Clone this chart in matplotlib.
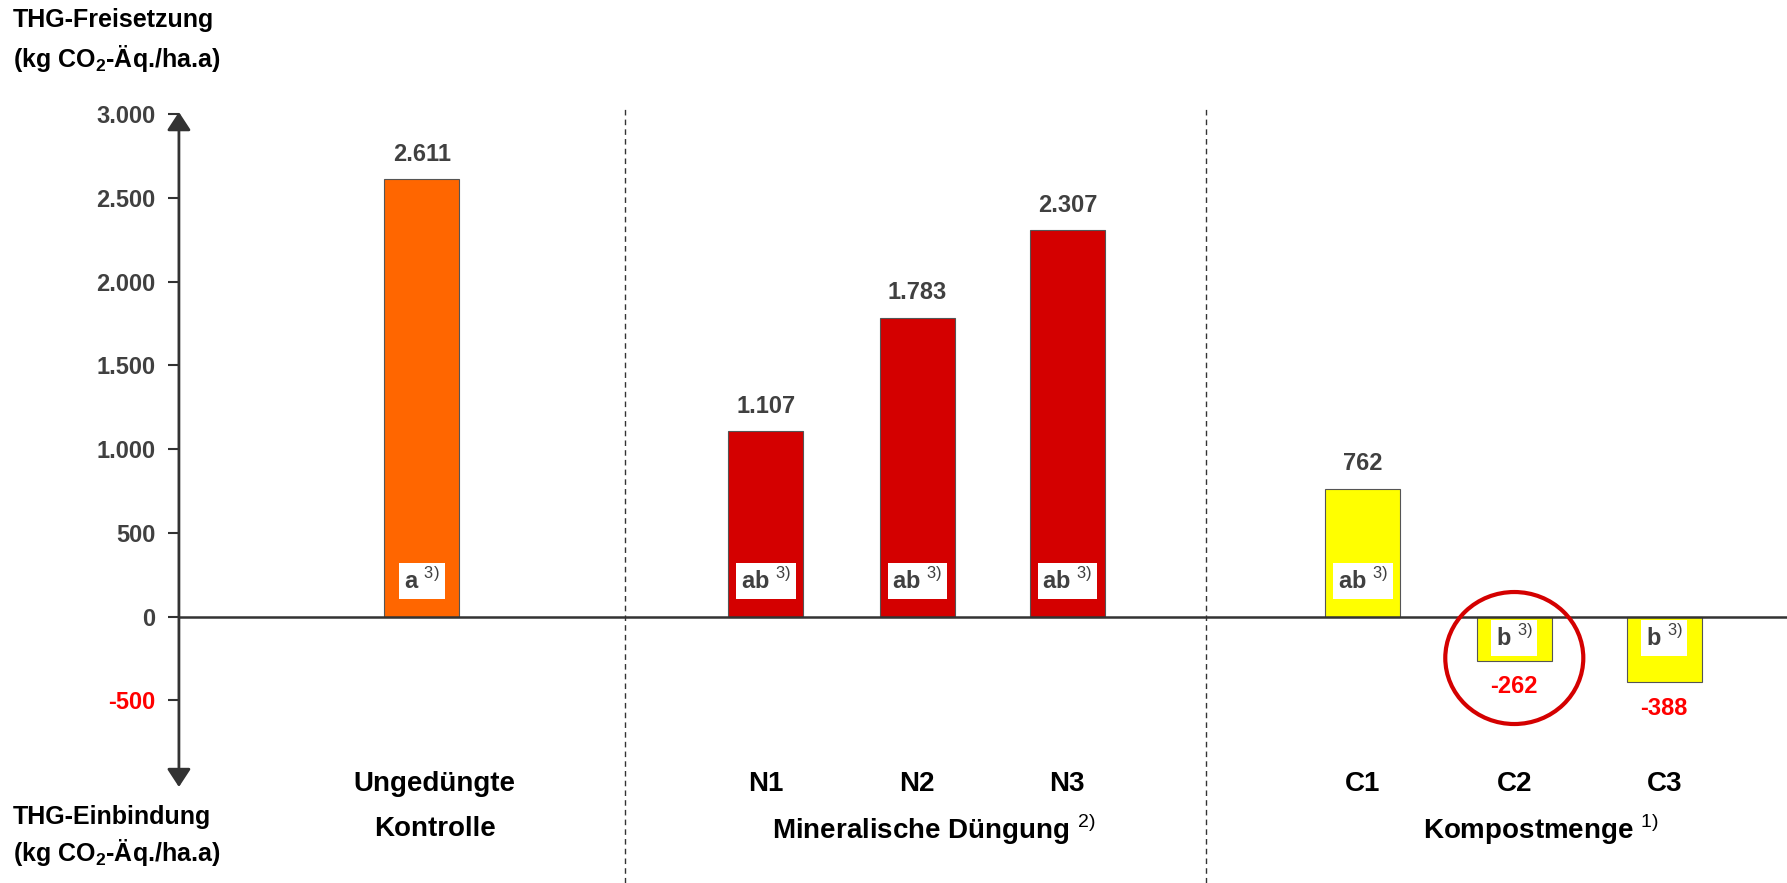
"""
THG-Bilanz: Ungedüngte Kontrolle, mineralische Düngung und Kompostmenge
"""

import matplotlib.pyplot as plt
from matplotlib.patches import Ellipse
from matplotlib.ticker import FuncFormatter, FixedLocator

plt.rcParams['font.family'] = ['Liberation Sans', 'DejaVu Sans']
plt.rcParams['mathtext.fontset'] = 'custom'
plt.rcParams['mathtext.rm'] = 'Liberation Sans'
plt.rcParams['mathtext.bf'] = 'Liberation Sans:bold'
plt.rcParams['axes.unicode_minus'] = False

# data
categories = ['Ungedüngte\nKontrolle', 'N1', 'N2', 'N3', 'C1', 'C2', 'C3']
values = [2611, 1107, 1783, 2307, 762, -262, -388]
letters = ['a', 'ab', 'ab', 'ab', 'ab', 'b', 'b']
bar_colors = ['#FF6600', '#D40000', '#D40000', '#D40000',
              '#FFFF00', '#FFFF00', '#FFFF00']
group_labels = ['Mineralische Düngung $^{2)}$', 'Kompostmenge $^{1)}$']
group_center = [2, 5]          # index of the bar under which the group label sits
y_ticks = [-500, 0, 500, 1000, 1500, 2000, 2500, 3000]
highlight = 5                  # C2 is circled

# layout
x_pos = [0, 2.27, 3.27, 4.26, 6.21, 7.21, 8.2]
label_dx = [0.085, 0, 0, 0, 0, 0, 0]
group_dx = [0.108, 0.178]
separators = [1.337, 5.175]
AXIS_X = -1.604
BAR_W = 0.495
DARK = '#333333'
TEXT = '#404040'


def de_fmt(v, _=None):
    return f"{int(v):,}".replace(',', '.')


fig = plt.figure(figsize=(17.87, 8.83), dpi=100)
ax = fig.add_axes([0, 0, 1, 1])
ax.set_xlim(-2.785, 9.01)
ax.set_ylim(-1590, 3681)

for s in ['top', 'right', 'bottom']:
    ax.spines[s].set_visible(False)
ax.spines['left'].set_position(('data', AXIS_X))
ax.spines['left'].set_visible(False)
ax.set_xticks([])
ax.yaxis.set_major_locator(FixedLocator(y_ticks))
ax.yaxis.set_major_formatter(FuncFormatter(de_fmt))
ax.tick_params(axis='y', direction='out', length=8, width=1.5, color=DARK,
               pad=9, labelsize=17, labelcolor=TEXT)
for lab in ax.get_yticklabels():
    lab.set_fontweight('bold')
    if lab.get_text().startswith('-'):
        lab.set_color('#FF0000')

# y axis with arrows on both ends
ax.annotate('', xy=(AXIS_X, 3012), xytext=(AXIS_X, -1017),
            arrowprops=dict(arrowstyle='<|-|>,head_length=0.55,head_width=0.36',
                            color=DARK, lw=2, mutation_scale=20,
                            shrinkA=0, shrinkB=0))
ax.hlines(0, AXIS_X, 9.01, colors=DARK, lw=1.8, zorder=4)
ax.vlines(separators, -1590, 3036, colors=DARK, lw=1,
          linestyles=(0, (4, 3)))

ax.bar(x_pos, values, width=BAR_W, color=bar_colors, edgecolor='#555555',
       linewidth=0.8, zorder=3)

for x, v, let in zip(x_pos, values, letters):
    off = 18 if v > 0 else -19
    ax.annotate(de_fmt(v), (x, v), xytext=(0, off), textcoords='offset points',
                ha='center', va='center', fontsize=17, fontweight='bold',
                color=TEXT if v > 0 else '#FF0000')
    ax.text(x, 212 if v > 0 else -128, f"{let} $^{{3)}}$", ha='center',
            va='center', fontsize=17, fontweight='bold', color=TEXT, zorder=5,
            bbox=dict(boxstyle='square,pad=0.2', fc='white', ec='none'))

# category labels
for x, dx, cat in zip(x_pos, label_dx, categories):
    for row, line in enumerate(cat.split('\n')):
        ax.text(x + dx, -999 - 269 * row, line, ha='center', va='center',
                fontsize=20, fontweight='bold', color='black')
for idx, dx, lab in zip(group_center, group_dx, group_labels):
    ax.text(x_pos[idx] + dx, -1268, lab, ha='center', va='center',
            fontsize=20, fontweight='bold', color='black')

ax.add_patch(Ellipse((x_pos[highlight], -247), 0.911, 788, fill=False,
                     ec='#D40000', lw=3, zorder=6))

# axis titles
fig.text(0.0073, 1 - 20 / 883, 'THG-Freisetzung', ha='left', va='center',
         fontsize=18, fontweight='bold')
fig.text(0.0073, 1 - 58 / 883, r'(kg CO$_\mathbf{2}$-Äq./ha.a)', ha='left',
         va='center', fontsize=18, fontweight='bold')
fig.text(0.0073, 1 - 817 / 883, 'THG-Einbindung', ha='left', va='center',
         fontsize=18, fontweight='bold')
fig.text(0.0073, 1 - 852 / 883, r'(kg CO$_\mathbf{2}$-Äq./ha.a)', ha='left',
         va='center', fontsize=18, fontweight='bold')

fig.savefig('out.png', dpi=100)
